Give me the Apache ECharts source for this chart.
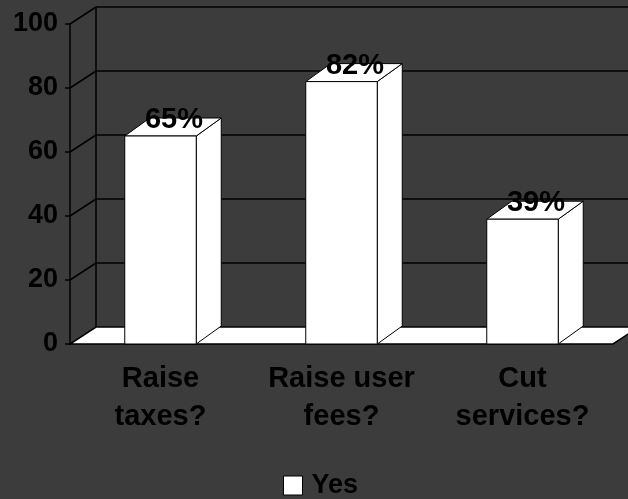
<!DOCTYPE html>
<html>
<head>
<meta charset="utf-8">
<script src="https://cdn.jsdelivr.net/npm/echarts@6/dist/echarts.min.js"></script>
<style>
html,body{margin:0;padding:0;background:#3c3c3c;}
#main{width:628px;height:499px;}
</style>
</head>
<body>
<div id="main"></div>
<script>
const categories = ['Raise\ntaxes?', 'Raise user\nfees?', 'Cut\nservices?'];
const yesValues = [65, 82, 39];
const yTicks = [0, 20, 40, 60, 80, 100];
const seriesName = 'Yes';

const FONT = "'Liberation Sans', Arial, sans-serif";
const WALL_DX = 26, WALL_DY = -17;
const BAR_DX = 25, BAR_DY = -18;

const chart = echarts.init(document.getElementById('main'));

function renderWall(params, api) {
  const cs = params.coordSys;
  const v = api.value(1);
  const y = api.coord([0, v])[1];
  const x0 = cs.x;
  const xEnd = cs.x + cs.width;
  const children = [];
  const ls = { stroke: '#000', lineWidth: 1.5 };
  if (params.dataIndex === 0) {
    const yTop = api.coord([0, yTicks[yTicks.length - 1]])[1];
    children.push({
      type: 'line',
      shape: { x1: x0 + WALL_DX, y1: yTop + WALL_DY, x2: x0 + WALL_DX, y2: y + WALL_DY },
      style: ls
    });
    children.push({
      type: 'polygon',
      shape: { points: [[x0, y], [xEnd, y], [xEnd + WALL_DX, y + WALL_DY], [x0 + WALL_DX, y + WALL_DY]] },
      style: { fill: '#fff', stroke: '#000', lineWidth: 1.5 }
    });
  } else {
    children.push({
      type: 'line',
      shape: { x1: x0, y1: y, x2: x0 + WALL_DX, y2: y + WALL_DY },
      style: ls
    });
    children.push({
      type: 'line',
      shape: { x1: x0 + WALL_DX, y1: y + WALL_DY, x2: xEnd + 200, y2: y + WALL_DY },
      style: ls
    });
  }
  return { type: 'group', children: children };
}

function renderBar(params, api) {
  const xi = api.value(0);
  const v = api.value(1);
  const top = api.coord([xi, v]);
  const base = api.coord([xi, 0]);
  const w = api.size([1, 0])[0] * 0.395;
  const xl = top[0] - w / 2, xr = top[0] + w / 2;
  const yt = top[1], yb = base[1];
  const st = { fill: '#fff', stroke: '#000', lineWidth: 1 };
  return {
    type: 'group',
    children: [
      { type: 'polygon', shape: { points: [[xr, yt], [xr + BAR_DX, yt + BAR_DY], [xr + BAR_DX, yb + BAR_DY], [xr, yb]] }, style: st },
      { type: 'polygon', shape: { points: [[xl, yt], [xr, yt], [xr + BAR_DX, yt + BAR_DY], [xl + BAR_DX, yt + BAR_DY]] }, style: st },
      { type: 'rect', shape: { x: xl, y: yt, width: w, height: yb - yt }, style: st },
      { type: 'text', x: top[0] + BAR_DX / 2 + 1, y: yt + BAR_DY + 2,
        style: { text: v + '%', fill: '#000', font: 'bold 29px ' + FONT, textAlign: 'center', textVerticalAlign: 'middle' } }
    ]
  };
}

chart.setOption({
  backgroundColor: '#3c3c3c',
  animation: false,
  grid: { left: 70, right: 15, top: 24, bottom: 155 },
  legend: {
    data: [seriesName],
    left: 278,
    top: 467,
    icon: 'rect',
    itemWidth: 19,
    itemHeight: 19,
    itemStyle: { color: '#fff', borderColor: '#000', borderWidth: 1 },
    textStyle: { color: '#000', fontSize: 27, fontWeight: 'bold', fontFamily: FONT, padding: [0, 0, 0, 4] }
  },
  xAxis: {
    type: 'category',
    data: categories,
    axisLine: { show: false },
    axisTick: { show: false },
    splitLine: { show: false },
    axisLabel: { color: '#000', fontSize: 29, fontWeight: 'bold', fontFamily: FONT, lineHeight: 38, margin: 16, interval: 0 }
  },
  yAxis: {
    type: 'value',
    min: 0,
    max: 100,
    interval: 20,
    axisLine: { show: true, lineStyle: { color: '#000', width: 1.5 } },
    axisTick: { show: true, length: 5, lineStyle: { color: '#000', width: 1.5 } },
    splitLine: { show: false },
    axisLabel: { color: '#000', fontSize: 27, fontWeight: 'bold', fontFamily: FONT, margin: 12 }
  },
  series: [
    {
      type: 'custom',
      name: '__wall',
      renderItem: renderWall,
      data: yTicks.map(function (t) { return [0, t]; }),
      z: 1,
      silent: true
    },
    {
      type: 'custom',
      name: seriesName,
      renderItem: renderBar,
      itemStyle: { color: '#fff', borderColor: '#000', borderWidth: 1 },
      data: yesValues.map(function (v, i) { return [i, v]; }),
      z: 2
    }
  ]
});
</script>
</body>
</html>
